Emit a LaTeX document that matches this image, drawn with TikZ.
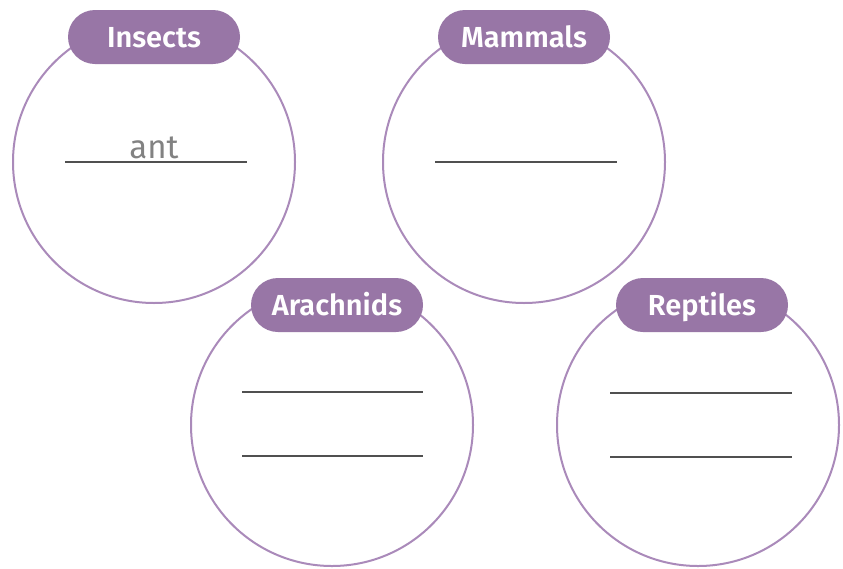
\documentclass[tikz,border=0pt]{standalone}
\usepackage{fontspec}
\setmainfont{Fira Sans}
\newfontfamily\pillfont{Fira Sans SemiBold}
\definecolor{ringc}{RGB}{170,138,186}
\definecolor{pillc}{RGB}{152,118,166}
\definecolor{linec}{RGB}{80,80,80}
\definecolor{handc}{RGB}{130,130,130}
\begin{document}
\begin{tikzpicture}[x=1pt,y=-1pt,
  ring/.style={circle, draw=ringc, line width=2pt, minimum size=282pt, inner sep=0pt},
  pill/.style={fill=pillc, rounded corners=27pt, minimum width=172pt, minimum height=54pt,
    inner sep=0pt, text=white, text height=20pt, text depth=0pt,
    font=\fontsize{29}{32}\pillfont},
  wline/.style={draw=linec, line width=1.4pt},
  hand/.style={text=handc, inner sep=0pt, anchor=base, font=\fontsize{33}{35}\selectfont}]
\useasboundingbox (0,0) rectangle (843,568);
\fill[white] (0,0) rectangle (843,568);

% circles
\node[ring] (insC) at (154,162) {};
\node[ring] (mamC) at (524,162) {};
\node[ring] (araC) at (332,425) {};
\node[ring] (repC) at (698,425) {};

% labels
\node[pill] (insP) at (154,37) {Insects};
\node[pill] (mamP) at (524,37) {Mammals};
\node[pill] (araP) at (337,305) {Arachnids};
\node[pill] (repP) at (702,305) {Reptiles};

% writing lines
\coordinate (i1a) at (65,162);  \coordinate (i1b) at (247,162);
\coordinate (m1a) at (435,162); \coordinate (m1b) at (617,162);
\coordinate (a1a) at (242,392); \coordinate (a1b) at (423,392);
\coordinate (a2a) at (242,456); \coordinate (a2b) at (423,456);
\coordinate (r1a) at (610,393); \coordinate (r1b) at (792,393);
\coordinate (r2a) at (610,457); \coordinate (r2b) at (792,457);
\draw[wline] (i1a) -- (i1b);
\draw[wline] (m1a) -- (m1b);
\draw[wline] (a1a) -- (a1b);
\draw[wline] (a2a) -- (a2b);
\draw[wline] (r1a) -- (r1b);
\draw[wline] (r2a) -- (r2b);

\node[hand] (ant) at (154,158) {ant};
\end{tikzpicture}
\end{document}
